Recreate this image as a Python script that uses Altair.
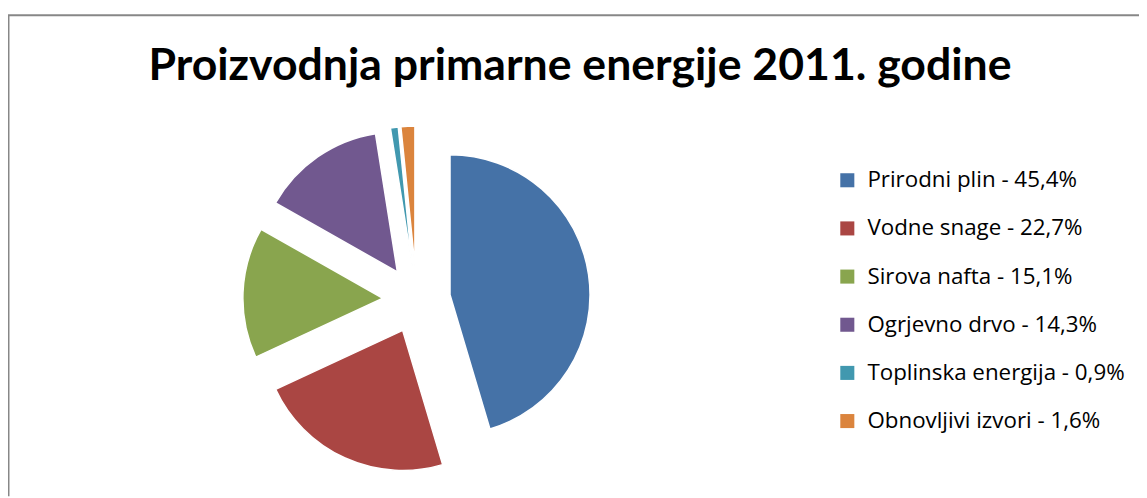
import altair as alt
import pandas as pd

title_text = "Proizvodnja primarne energije 2011. godine"
categories = ["Prirodni plin", "Vodne snage", "Sirova nafta", "Ogrjevno drvo",
              "Toplinska energija", "Obnovljivi izvori"]
values = [45.4, 22.7, 15.1, 14.3, 0.9, 1.6]
colors = ["#4572A7", "#AA4643", "#89A54E", "#71588F", "#4198AF", "#DB843D"]

labels = [f"{c} - {v:.1f}%".replace(".", ",") for c, v in zip(categories, values)]
df = pd.DataFrame({"idx": list(range(len(categories))), "cat": categories,
                   "val": values, "label": labels})

W, H = 1139, 490
CX, CY, R, D = 411.5, 292.0, 141, 34

base = alt.Chart(df)

pie = base.transform_joinaggregate(
    total="sum(val)"
).transform_window(
    cum="sum(val)", sort=[alt.SortField("idx")], frame=[None, 0]
).transform_calculate(
    a0="2*PI*(datum.cum - datum.val)/datum.total",
    a1="2*PI*datum.cum/datum.total",
).transform_calculate(
    mid="(datum.a0 + datum.a1)/2"
).transform_calculate(
    px=f"{CX} + {D}*sin(datum.mid)",
    py=f"{CY} - {D}*cos(datum.mid)",
).mark_arc(outerRadius=R, stroke="white", strokeWidth=1.5).encode(
    x=alt.X("px:Q", scale=None, axis=None),
    y=alt.Y("py:Q", scale=None, axis=None),
    theta=alt.Theta("a0:Q", scale=None, stack=False),
    theta2="a1:Q",
    color=alt.Color(
        "label:N",
        scale=alt.Scale(domain=labels, range=colors),
        legend=alt.Legend(
            title=None, orient="none", legendX=834, legendY=160.5,
            symbolType="square", symbolSize=200, symbolStrokeWidth=0,
            labelFont="Open Sans", labelFontSize=22.5, labelColor="#000000",
            labelOffset=9, rowPadding=25.5, padding=0, labelLimit=400,
        ),
    ),
)

title = alt.Chart(pd.DataFrame({"t": [title_text]})).mark_text(
    font="Lato", fontSize=44.9, fontWeight="bold", color="#000000",
    align="center", baseline="alphabetic",
).encode(text="t:N", x=alt.value(576), y=alt.value(71))

border_top = alt.Chart(pd.DataFrame({"k": [0]})).mark_rule(
    color="#878787", strokeWidth=2
).encode(x=alt.value(0), x2=alt.value(W), y=alt.value(5.5))

border_left = alt.Chart(pd.DataFrame({"k": [0]})).mark_rule(
    color="#878787", strokeWidth=2
).encode(x=alt.value(0.5), y=alt.value(5.5), y2=alt.value(H))

chart = alt.layer(border_top, border_left, title, pie).properties(
    width=W, height=H, padding=0,
    autosize=alt.AutoSizeParams(type="none"),
).configure_view(strokeWidth=0)

chart.save("out.html", embed_options={"renderer": "svg", "actions": False})
